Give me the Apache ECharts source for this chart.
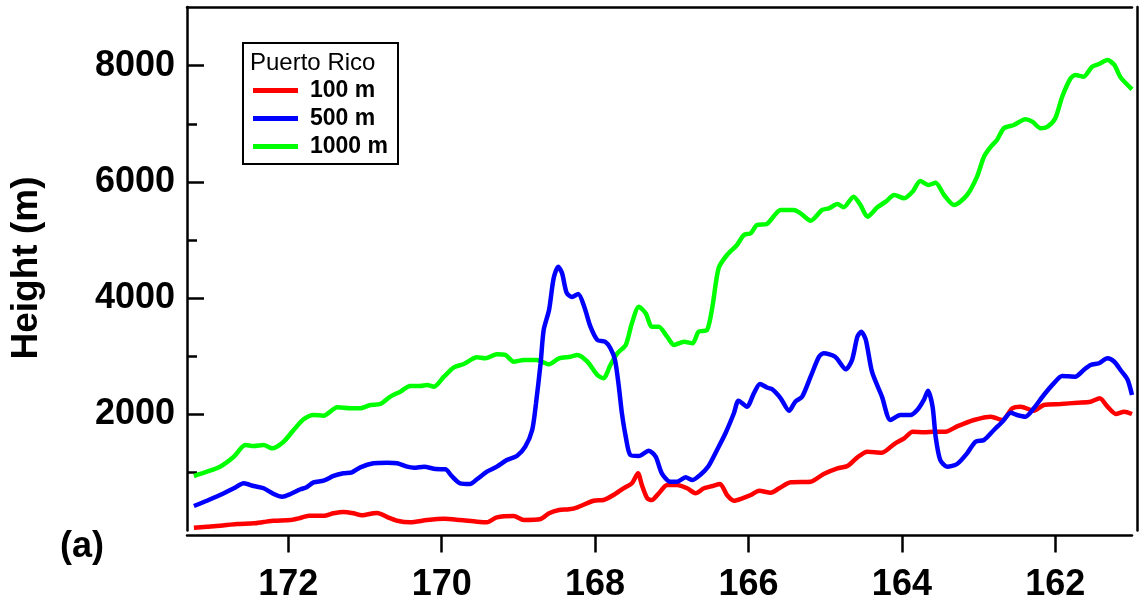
<!DOCTYPE html>
<html><head><meta charset="utf-8">
<script src="https://cdn.jsdelivr.net/npm/echarts@6/dist/echarts.min.js"></script>
<style>html,body{margin:0;padding:0;background:#fff}#c{width:1142px;height:613px}</style>
</head><body><div id="c"></div>
<script>
// ---- data: [longitude (deg W), height (m)] ----
const seriesNames = ['100 m', '500 m', '1000 m'];
const red100 = [[173.23,47],[173.06,64],[172.89,81],[172.67,110],[172.45,122],[172.32,145],[172.19,167],[171.97,179],[171.86,208],[171.73,253],[171.54,253],[171.41,294],[171.28,317],[171.15,294],[171.04,260],[170.89,294],[170.84,300],[170.71,230],[170.58,167],[170.41,139],[170.19,179],[169.97,201],[169.76,179],[169.54,150],[169.41,139],[169.28,225],[169.06,248],[168.93,179],[168.71,196],[168.60,294],[168.47,351],[168.34,363],[168.23,398],[168.02,511],[167.89,523],[167.76,609],[167.63,725],[167.52,811],[167.44,983],[167.39,782],[167.32,553],[167.26,523],[167.17,639],[167.06,782],[166.93,782],[166.80,725],[166.69,639],[166.58,725],[166.47,764],[166.37,799],[166.28,609],[166.19,511],[166.08,553],[165.97,609],[165.86,683],[165.71,649],[165.60,725],[165.45,828],[165.19,838],[165.02,971],[164.84,1069],[164.71,1109],[164.58,1258],[164.45,1355],[164.26,1338],[164.10,1487],[163.97,1585],[163.86,1699],[163.71,1689],[163.58,1699],[163.43,1699],[163.28,1790],[163.06,1900],[162.84,1957],[162.69,1900],[162.56,2102],[162.45,2130],[162.28,2061],[162.15,2159],[161.93,2176],[161.71,2198],[161.54,2216],[161.42,2274],[161.32,2130],[161.21,2004],[161.10,2044],[161.00,2004]];
const blue500 = [[173.23,420],[173.06,511],[172.89,609],[172.71,725],[172.58,811],[172.45,764],[172.32,725],[172.19,627],[172.08,580],[171.97,627],[171.84,708],[171.76,742],[171.67,828],[171.54,856],[171.41,937],[171.28,983],[171.17,1000],[171.06,1086],[170.89,1155],[170.71,1165],[170.58,1155],[170.45,1097],[170.36,1079],[170.23,1097],[170.08,1057],[169.95,1052],[169.87,937],[169.76,811],[169.63,799],[169.54,880],[169.41,1011],[169.28,1097],[169.15,1212],[169.02,1281],[168.91,1441],[168.82,1728],[168.77,2188],[168.71,2877],[168.67,3450],[168.60,3794],[168.54,4340],[168.48,4540],[168.43,4426],[168.37,4087],[168.30,4018],[168.22,4070],[168.14,3846],[168.06,3507],[167.97,3278],[167.87,3249],[167.80,3135],[167.74,2933],[167.69,2474],[167.65,2016],[167.60,1613],[167.54,1298],[167.43,1281],[167.30,1372],[167.21,1269],[167.13,983],[167.02,838],[166.93,838],[166.82,914],[166.73,868],[166.63,954],[166.52,1109],[166.41,1384],[166.30,1672],[166.19,2016],[166.13,2233],[166.02,2130],[165.93,2360],[165.85,2520],[165.76,2460],[165.69,2429],[165.58,2274],[165.47,2061],[165.39,2216],[165.30,2302],[165.19,2646],[165.08,2990],[165.02,3049],[164.87,2990],[164.73,2773],[164.65,2933],[164.58,3335],[164.53,3421],[164.47,3278],[164.39,2732],[164.26,2302],[164.15,1900],[164.02,1987],[163.89,1987],[163.80,2073],[163.71,2257],[163.66,2405],[163.60,2130],[163.56,1613],[163.50,1212],[163.41,1097],[163.28,1143],[163.15,1327],[163.04,1527],[162.93,1556],[162.80,1728],[162.69,1871],[162.58,2026],[162.50,1987],[162.39,1957],[162.28,2102],[162.15,2331],[162.02,2532],[161.91,2658],[161.74,2646],[161.63,2761],[161.54,2847],[161.43,2877],[161.32,2963],[161.23,2904],[161.15,2761],[161.06,2601],[161.00,2331]];
const green1000 = [[173.23,936],[173.06,1010],[172.89,1097],[172.71,1269],[172.56,1470],[172.45,1453],[172.32,1470],[172.21,1413],[172.06,1527],[171.93,1728],[171.80,1913],[171.67,1987],[171.54,1975],[171.36,2119],[171.19,2102],[171.06,2102],[170.93,2159],[170.80,2176],[170.67,2302],[170.54,2388],[170.41,2486],[170.28,2486],[170.19,2503],[170.10,2474],[169.97,2646],[169.84,2808],[169.71,2865],[169.54,2980],[169.43,2963],[169.28,3032],[169.17,3020],[169.06,2904],[168.93,2933],[168.76,2933],[168.60,2859],[168.47,2963],[168.32,2990],[168.23,3020],[168.10,2904],[167.97,2675],[167.89,2618],[167.80,2847],[167.71,3049],[167.60,3192],[167.52,3565],[167.43,3851],[167.34,3737],[167.26,3507],[167.17,3507],[167.06,3335],[166.97,3192],[166.84,3249],[166.73,3221],[166.65,3421],[166.54,3450],[166.47,3851],[166.39,4512],[166.28,4741],[166.15,4913],[166.06,5085],[165.97,5115],[165.89,5257],[165.76,5275],[165.58,5516],[165.41,5516],[165.32,5459],[165.19,5332],[165.04,5516],[164.95,5545],[164.84,5619],[164.76,5562],[164.63,5745],[164.54,5602],[164.45,5400],[164.32,5562],[164.21,5659],[164.10,5774],[163.97,5717],[163.86,5831],[163.76,6015],[163.65,5946],[163.56,5986],[163.45,5774],[163.32,5602],[163.15,5774],[163.02,6089],[162.93,6433],[162.84,6605],[162.76,6721],[162.67,6922],[162.54,6979],[162.39,7077],[162.30,7036],[162.19,6922],[162.10,6950],[162.00,7094],[161.91,7466],[161.80,7783],[161.74,7840],[161.63,7811],[161.52,7983],[161.43,8029],[161.32,8098],[161.23,8012],[161.15,7800],[161.00,7594]];
const xTicks = [162, 164, 166, 168, 170, 172];
const yMajorTicks = [2000, 4000, 6000, 8000];
const yMinorTicks = [1000, 3000, 5000, 7000];
const xMin = 161.0, xMax = 173.32;
const yMin = 0, yMax = 9010;
const legendTitle = 'Puerto Rico';
const yTitle = 'Height (m)';
const panelLabel = '(a)';
const colors = ['#ff0000', '#0000ff', '#00ff00'];

// ---- chart ----
const F = "'Liberation Sans', Arial, Helvetica, sans-serif";
const chart = echarts.init(document.getElementById('c'), null, {renderer: 'canvas'});
const axLine = {show: true, onZero: false, lineStyle: {color: '#000', width: 2.5}};
const tickStyle = {color: '#000', width: 2.5};
const labelStyle = {fontSize: 36, fontWeight: 'bold', color: '#000', fontFamily: F, formatter: v => String(v)};

const option = {
  animation: false,
  backgroundColor: '#fff',
  grid: {left: 187, right: 10, top: 7, bottom: 82.6, containLabel: false},
  xAxis: [
    {type: 'value', inverse: true, min: xMin, max: xMax, offset: 5, axisLine: axLine,
     axisTick: {show: true, customValues: xTicks, length: 17, lineStyle: tickStyle},
     axisLabel: {customValues: xTicks, margin: 32, ...labelStyle},
     splitLine: {show: false}},
    {type: 'value', position: 'top', inverse: true, min: xMin, max: xMax, axisLine: axLine,
     axisTick: {show: false}, axisLabel: {show: false}, splitLine: {show: false}}
  ],
  yAxis: [
    {type: 'value', position: 'left', min: yMin, max: yMax, axisLine: axLine,
     axisTick: {show: true, customValues: yMajorTicks, inside: true, length: 17, lineStyle: tickStyle},
     axisLabel: {customValues: yMajorTicks, margin: 12, ...labelStyle},
     splitLine: {show: false}},
    {type: 'value', position: 'left', min: yMin, max: yMax, axisLine: {show: false},
     axisTick: {show: true, customValues: yMinorTicks, inside: true, length: 10, lineStyle: tickStyle},
     axisLabel: {show: false}, splitLine: {show: false}},
    {type: 'value', position: 'right', offset: 5, min: yMin, max: yMax, axisLine: axLine,
     axisTick: {show: false}, axisLabel: {show: false}, splitLine: {show: false}}
  ],
  legend: {
    orient: 'vertical', left: 243, top: 43, data: seriesNames, icon: 'rect',
    itemWidth: 45, itemHeight: 5, itemGap: 1, padding: [34, 10, 4, 10],
    borderColor: '#000', borderWidth: 2, selectedMode: false,
    textStyle: {fontSize: 23, fontWeight: 'bold', color: '#000', fontFamily: F, lineHeight: 27, padding: [0, 0, 0, 7]}
  },
  graphic: [
    {type: 'text', x: 250, y: 63, silent: true,
     style: {text: legendTitle, font: '24px ' + F, fill: '#000', align: 'left', verticalAlign: 'middle'}},
    {type: 'text', x: 27, y: 268, rotation: Math.PI / 2, silent: true,
     style: {text: yTitle, font: 'bold 37px ' + F, fill: '#000', align: 'center', verticalAlign: 'middle'}},
    {type: 'text', x: 82, y: 547, silent: true,
     style: {text: panelLabel, font: 'bold 36px ' + F, fill: '#000', align: 'center', verticalAlign: 'middle'}}
  ],
  series: [
    {name: seriesNames[0], type: 'line', data: red100, z: 3},
    {name: seriesNames[1], type: 'line', data: blue500, z: 4},
    {name: seriesNames[2], type: 'line', data: green1000, z: 2}
  ].map((s, i) => Object.assign(s, {
    xAxisIndex: 0, yAxisIndex: 0, showSymbol: false, smooth: 0.25,
    color: colors[i], lineStyle: {color: colors[i], width: 4.5}
  }))
};
chart.setOption(option);
</script>
</body></html>
